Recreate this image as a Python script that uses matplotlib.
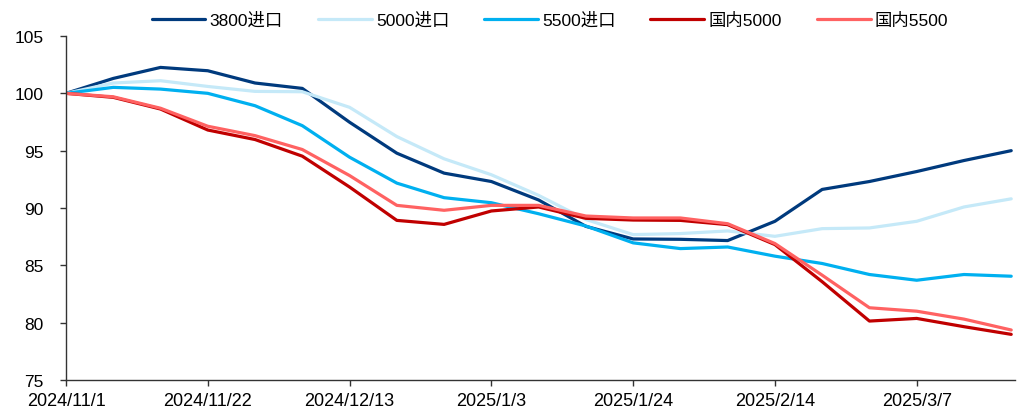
import matplotlib
matplotlib.use("Agg")
import matplotlib.pyplot as plt
import numpy as np

plt.rcParams['font.family'] = ['Liberation Sans', 'Noto Sans CJK SC', 'DejaVu Sans']

dates = ["2024/11/1", "2024/11/8", "2024/11/15", "2024/11/22", "2024/11/29", "2024/12/6",
         "2024/12/13", "2024/12/20", "2024/12/27", "2025/1/3", "2025/1/10", "2025/1/17",
         "2025/1/24", "2025/1/31", "2025/2/7", "2025/2/14", "2025/2/21", "2025/2/28",
         "2025/3/7", "2025/3/14", "2025/3/21"]

imp3800 = [100, 101.3, 102.26, 101.97, 100.9, 100.43, 97.48, 94.78, 93.04, 92.31, 90.7,
           88.4, 87.3, 87.27, 87.16, 88.84, 91.62, 92.31, 93.18, 94.14, 95.0]
imp5000 = [100, 100.9, 101.1, 100.6, 100.17, 100.14, 98.78, 96.23, 94.29, 92.9, 91.1,
           89.0, 87.68, 87.77, 88.0, 87.53, 88.2, 88.26, 88.84, 90.09, 90.8]
imp5500 = [100, 100.52, 100.37, 100.0, 98.92, 97.18, 94.43, 92.17, 90.9, 90.46, 89.5,
           88.43, 86.96, 86.46, 86.6, 85.8, 85.16, 84.2, 83.7, 84.2, 84.05]
dom5000 = [100, 99.65, 98.63, 96.8, 95.97, 94.52, 91.83, 88.92, 88.57, 89.74, 90.09,
           89.1, 88.95, 88.92, 88.55, 86.81, 83.57, 80.14, 80.37, 79.65, 78.98]
dom5500 = [100, 99.7, 98.7, 97.13, 96.31, 95.1, 92.83, 90.23, 89.8, 90.23, 90.23,
           89.3, 89.13, 89.13, 88.63, 86.9, 84.14, 81.3, 81.0, 80.31, 79.36]

series = [
    ("3800进口", imp3800, "#003A7D"),
    ("5000进口", imp5000, "#C5E9F8"),
    ("5500进口", imp5500, "#00B0F0"),
    ("国内5000", dom5000, "#C00000"),
    ("国内5500", dom5500, "#FF6262"),
]

fig = plt.figure(figsize=(10.21, 4.14), dpi=100)
ax = fig.add_axes([66/1021, 1-381/414, (1015-66)/1021, (381-37)/414])

x = np.arange(len(dates))
for name, vals, col in series:
    ax.plot(x, vals, color=col, lw=2.3, label=name, solid_capstyle='round', solid_joinstyle='round')

ax.set_xlim(0, 20.08)
ax.set_ylim(75, 105)
ax.set_yticks([75, 80, 85, 90, 95, 100, 105])
ax.set_xticks(x[::3])
ax.set_xticklabels(dates[::3])
for s in ['top', 'right']:
    ax.spines[s].set_visible(False)
for s in ['left', 'bottom']:
    ax.spines[s].set_color('#333333')
    ax.spines[s].set_linewidth(1.0)
ax.tick_params(axis='both', colors='#333333', labelcolor='black', length=4, width=1.0)
ax.tick_params(axis='y', labelsize=12.5, pad=12)
ax.tick_params(axis='x', labelsize=13, pad=5)

fig.legend(loc='center', bbox_to_anchor=(550/1021, 1-21/414), ncol=5, frameon=False,
           fontsize=12.5, handlelength=3.1, handletextpad=0.25, columnspacing=2.0)

fig.savefig("out.png", dpi=100)
